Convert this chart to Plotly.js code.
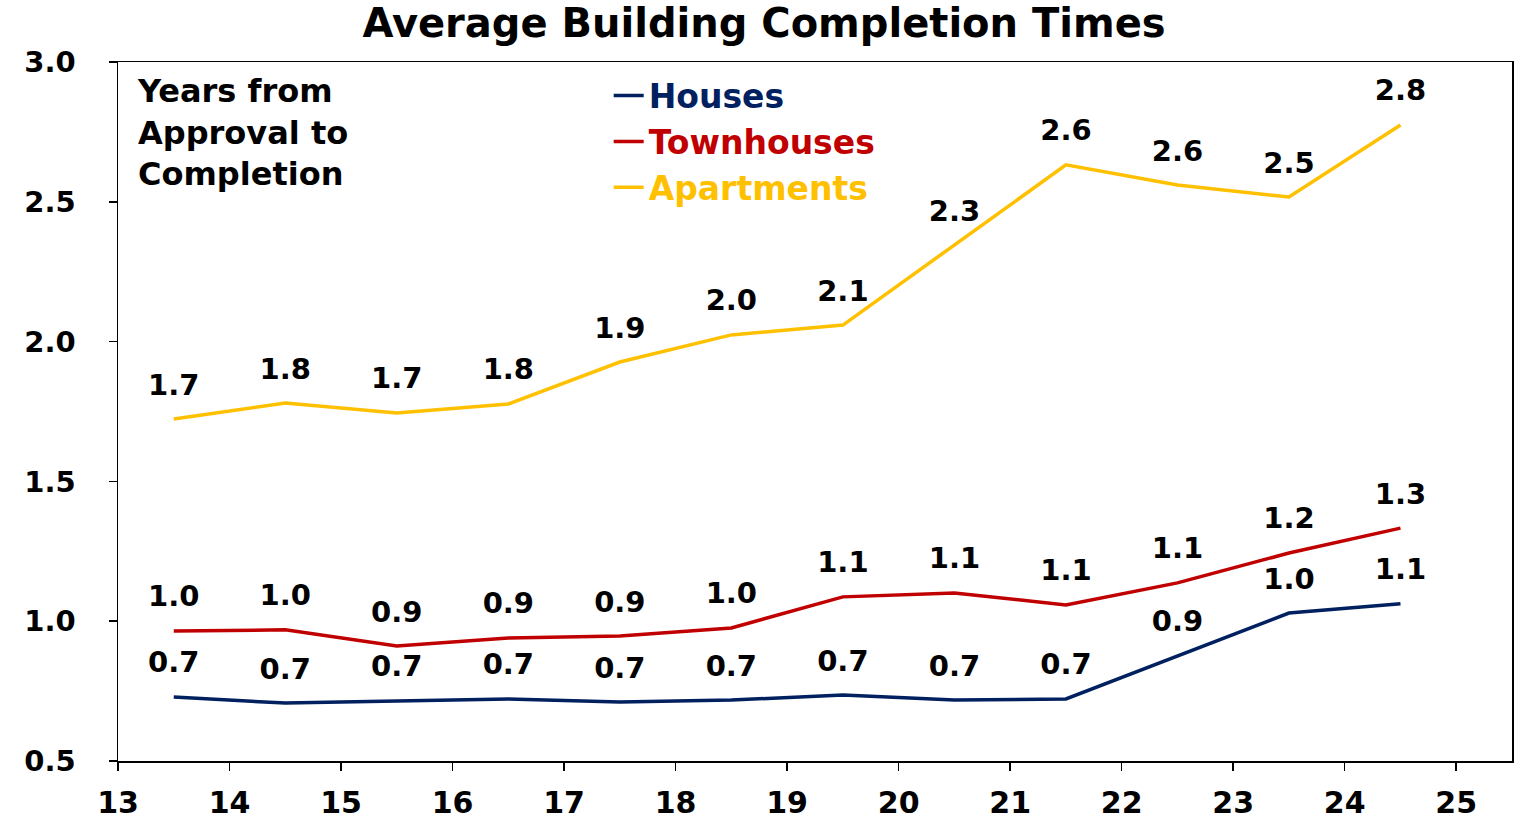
<!DOCTYPE html>
<html>
<head>
<meta charset="utf-8">
<script src="https://cdn.plot.ly/plotly-3.0.1.min.js"></script>
<style>
html,body{margin:0;padding:0;background:#fff;}
#chart{width:1528px;height:823px;}
</style>
</head>
<body>
<div id="chart"></div>
<script>
// Financial years (plotted mid-year)
const years = [13.5, 14.5, 15.5, 16.5, 17.5, 18.5, 19.5, 20.5, 21.5, 22.5, 23.5, 24.5];

const houses      = [0.729, 0.707, 0.715, 0.722, 0.711, 0.718, 0.736, 0.718, 0.722, 0.876, 1.029, 1.062];
const townhouses  = [0.965, 0.969, 0.911, 0.940, 0.947, 0.976, 1.087, 1.101, 1.058, 1.137, 1.244, 1.333];
const apartments  = [1.723, 1.780, 1.745, 1.777, 1.927, 2.024, 2.059, 2.345, 2.632, 2.560, 2.517, 2.775];

const housesLabels     = ['0.7','0.7','0.7','0.7','0.7','0.7','0.7','0.7','0.7','0.9','1.0','1.1'];
const townhousesLabels = ['1.0','1.0','0.9','0.9','0.9','1.0','1.1','1.1','1.1','1.1','1.2','1.3'];
const apartmentsLabels = ['1.7','1.8','1.7','1.8','1.9','2.0','2.1','2.3','2.6','2.6','2.5','2.8'];

const seriesNames = ['Houses', 'Townhouses', 'Apartments'];
const colors = ['#002060', '#C00000', '#FFC000'];

const FONT = 'DejaVu Sans, Verdana, sans-serif';

function lineTrace(y, i) {
  return {
    x: years, y: y,
    type: 'scatter', mode: 'lines',
    name: '<span style="color:' + colors[i] + '">' + seriesNames[i] + '</span>',
    line: {color: colors[i], width: 3.5},
    hoverinfo: 'skip'
  };
}
function labelTrace(y, labels) {
  return {
    x: years, y: y, text: labels,
    type: 'scatter', mode: 'markers+text',
    showlegend: false,
    marker: {size: 26, opacity: 0, color: '#fff'},
    textposition: 'top center',
    textfont: {family: FONT, size: 29, color: '#000', weight: 'bold'},
    cliponaxis: false,
    hoverinfo: 'skip'
  };
}

const data = [
  lineTrace(houses, 0),
  lineTrace(townhouses, 1),
  lineTrace(apartments, 2),
  labelTrace(houses, housesLabels),
  labelTrace(townhouses, townhousesLabels),
  labelTrace(apartments, apartmentsLabels)
];

const layout = {
  width: 1528, height: 823,
  margin: {l: 118, r: 16, t: 62, b: 62},
  paper_bgcolor: '#fff', plot_bgcolor: '#fff',
  font: {family: FONT, size: 30, color: '#000', weight: 'bold'},
  title: {
    text: 'Average Building Completion Times',
    font: {family: FONT, size: 40, color: '#000', weight: 'bold'},
    x: 0.5, xanchor: 'center', y: 0.972, yanchor: 'middle'
  },
  showlegend: true,
  legend: {
    x: 0.352, xanchor: 'left', y: 0.992, yanchor: 'top',
    bgcolor: 'rgba(0,0,0,0)', borderwidth: 0,
    font: {family: FONT, size: 33, weight: 'bold'},
    tracegroupgap: 0
  },
  xaxis: {
    range: [13, 25.5], tick0: 13, dtick: 1,
    showgrid: false, zeroline: false,
    showline: true, linecolor: '#000', linewidth: 1.5, mirror: true,
    ticks: 'outside', ticklen: 8, tickwidth: 1.5, tickcolor: '#000',
    tickfont: {family: FONT, size: 30, weight: 'bold'},
    ticklabelstandoff: 6
  },
  yaxis: {
    range: [0.5, 3.0], tick0: 0.5, dtick: 0.5, tickformat: '.1f',
    showgrid: false, zeroline: false,
    showline: true, linecolor: '#000', linewidth: 1.5, mirror: true,
    ticks: 'outside', ticklen: 8, tickwidth: 1.5, tickcolor: '#000',
    tickfont: {family: FONT, size: 29, weight: 'bold'},
    ticklabelstandoff: 27
  },
  annotations: [{
    xref: 'paper', yref: 'paper', x: 0.012, y: 0.988,
    xanchor: 'left', yanchor: 'top', align: 'left',
    showarrow: false,
    text: 'Years from<br>Approval to<br>Completion',
    font: {family: FONT, size: 32, color: '#000', weight: 'bold'}
  }]
};

Plotly.newPlot('chart', data, layout, {displayModeBar: false, staticPlot: true});
</script>
</body>
</html>
